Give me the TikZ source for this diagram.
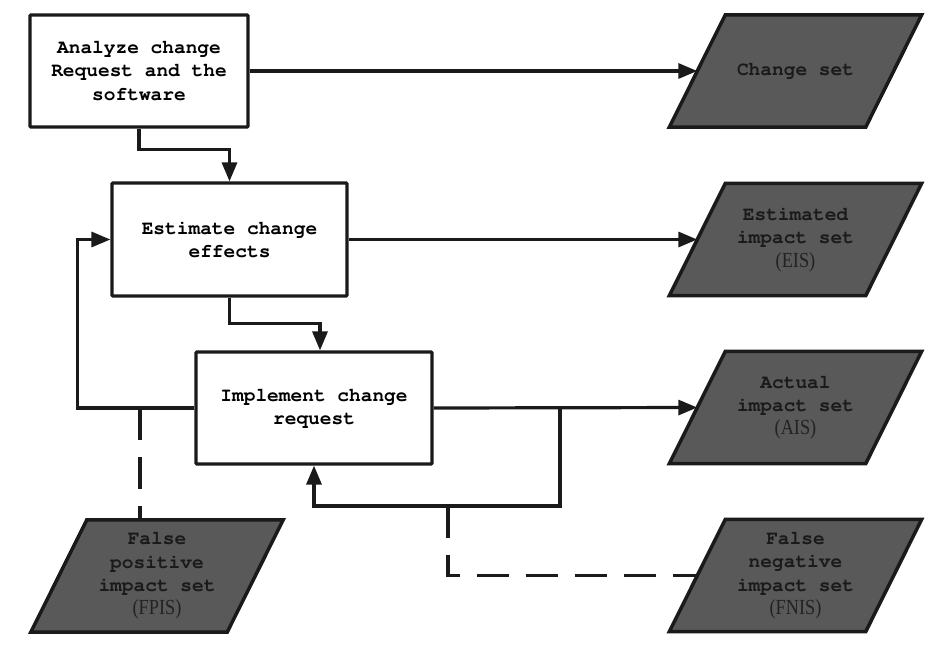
\documentclass[tikz,border=0pt]{standalone}
\usepackage[T1]{fontenc}
\usepackage{fontspec}
\newfontfamily\abbrfont{Liberation Serif}[FakeStretch=0.85]
\newcommand\courbold{\fontencoding{T1}\fontfamily{pcr}\fontseries{b}\fontshape{n}\fontsize{19.5}{23.3}\selectfont}
\usetikzlibrary{arrows.meta,backgrounds}
\definecolor{parafill}{HTML}{595959}
\definecolor{ink}{HTML}{1A1A1A}
\definecolor{abbrcol}{HTML}{222222}
\newcommand\abbr[1]{{\abbrfont\mdseries\fontsize{21.5}{23.3}\selectfont\color{abbrcol}#1}}
\newcommand\paraback[1]{\draw[paraedge] ([xshift=28pt]#1.north west) -- ([xshift=28pt]#1.north east) -- ([xshift=-28pt]#1.south east) -- ([xshift=-28pt]#1.south west) -- cycle;}
\begin{document}
\begin{tikzpicture}[x=1pt,y=-1pt,
  every node/.style={font=\courbold, align=center, inner sep=0pt},
  procbox/.style={draw=ink, line width=3.2pt, fill=white, rounded corners=1pt},
  dataset/.style={minimum width=196pt, minimum height=112pt, text=ink},
  conn/.style={draw=ink, line width=3.2pt},
  arr/.style={conn, -{Triangle[length=19pt,width=15pt]}},
  dashconn/.style={conn, dash pattern=on 32pt off 17pt},
  paraedge/.style={fill=parafill, draw=ink, line width=3.5pt, line join=miter}]
\useasboundingbox (0,0) rectangle (932,648);

% process boxes
\node[procbox, minimum width=218pt, minimum height=112pt] (a) at (139,71) {Analyze change\\Request and the\\software};
\node[procbox, minimum width=235pt, minimum height=113pt] (b) at (229.5,239.5) {Estimate change\\effects};
\node[procbox, minimum width=236pt, minimum height=112pt] (c) at (314,408) {Implement change\\request};

% data sets
\node[dataset] (cs) at (795.5,71) {Change set};
\node[dataset] (eis) at (795.5,239.5) {Estimated\\impact set\\\abbr{(EIS)}};
\node[dataset] (ais) at (795.5,407.5) {Actual\\impact set\\\abbr{(AIS)}};
\node[dataset] (fnis) at (795.5,575.5) {False\\negative\\impact set\\\abbr{(FNIS)}};
\node[dataset] (fpis) at (157,576) {False\\positive\\impact set\\\abbr{(FPIS)}};

\begin{scope}[on background layer]
\paraback{cs}
\paraback{eis}
\paraback{ais}
\paraback{fnis}
\paraback{fpis}
\end{scope}

% helper coordinates
\coordinate (j1) at (560,407.5);
\coordinate (lb) at (560,506);
\coordinate (j2) at (448,506);
\coordinate (d1) at (140,407.5);

% connectors
\draw[arr] (a.east) -- (cs.west);
\draw[arr] (a.south) -- ++(0,21) -| (b.north);
\draw[arr] (b.east) -- (eis.west);
\draw[arr] (b.south) -- ++(0,26) -| ([xshift=6pt]c.north);
\draw[arr] (c.east) -- (ais.west);
\draw[arr] (j1) -- (lb) -| (c.south);
\draw[arr] (c.west) -- ++(-117,0) |- (b.west);
\draw[dashconn] (d1) -- (d1 |- fpis.north);
\draw[dashconn] (j2) |- (fnis.west);
\end{tikzpicture}
\end{document}
